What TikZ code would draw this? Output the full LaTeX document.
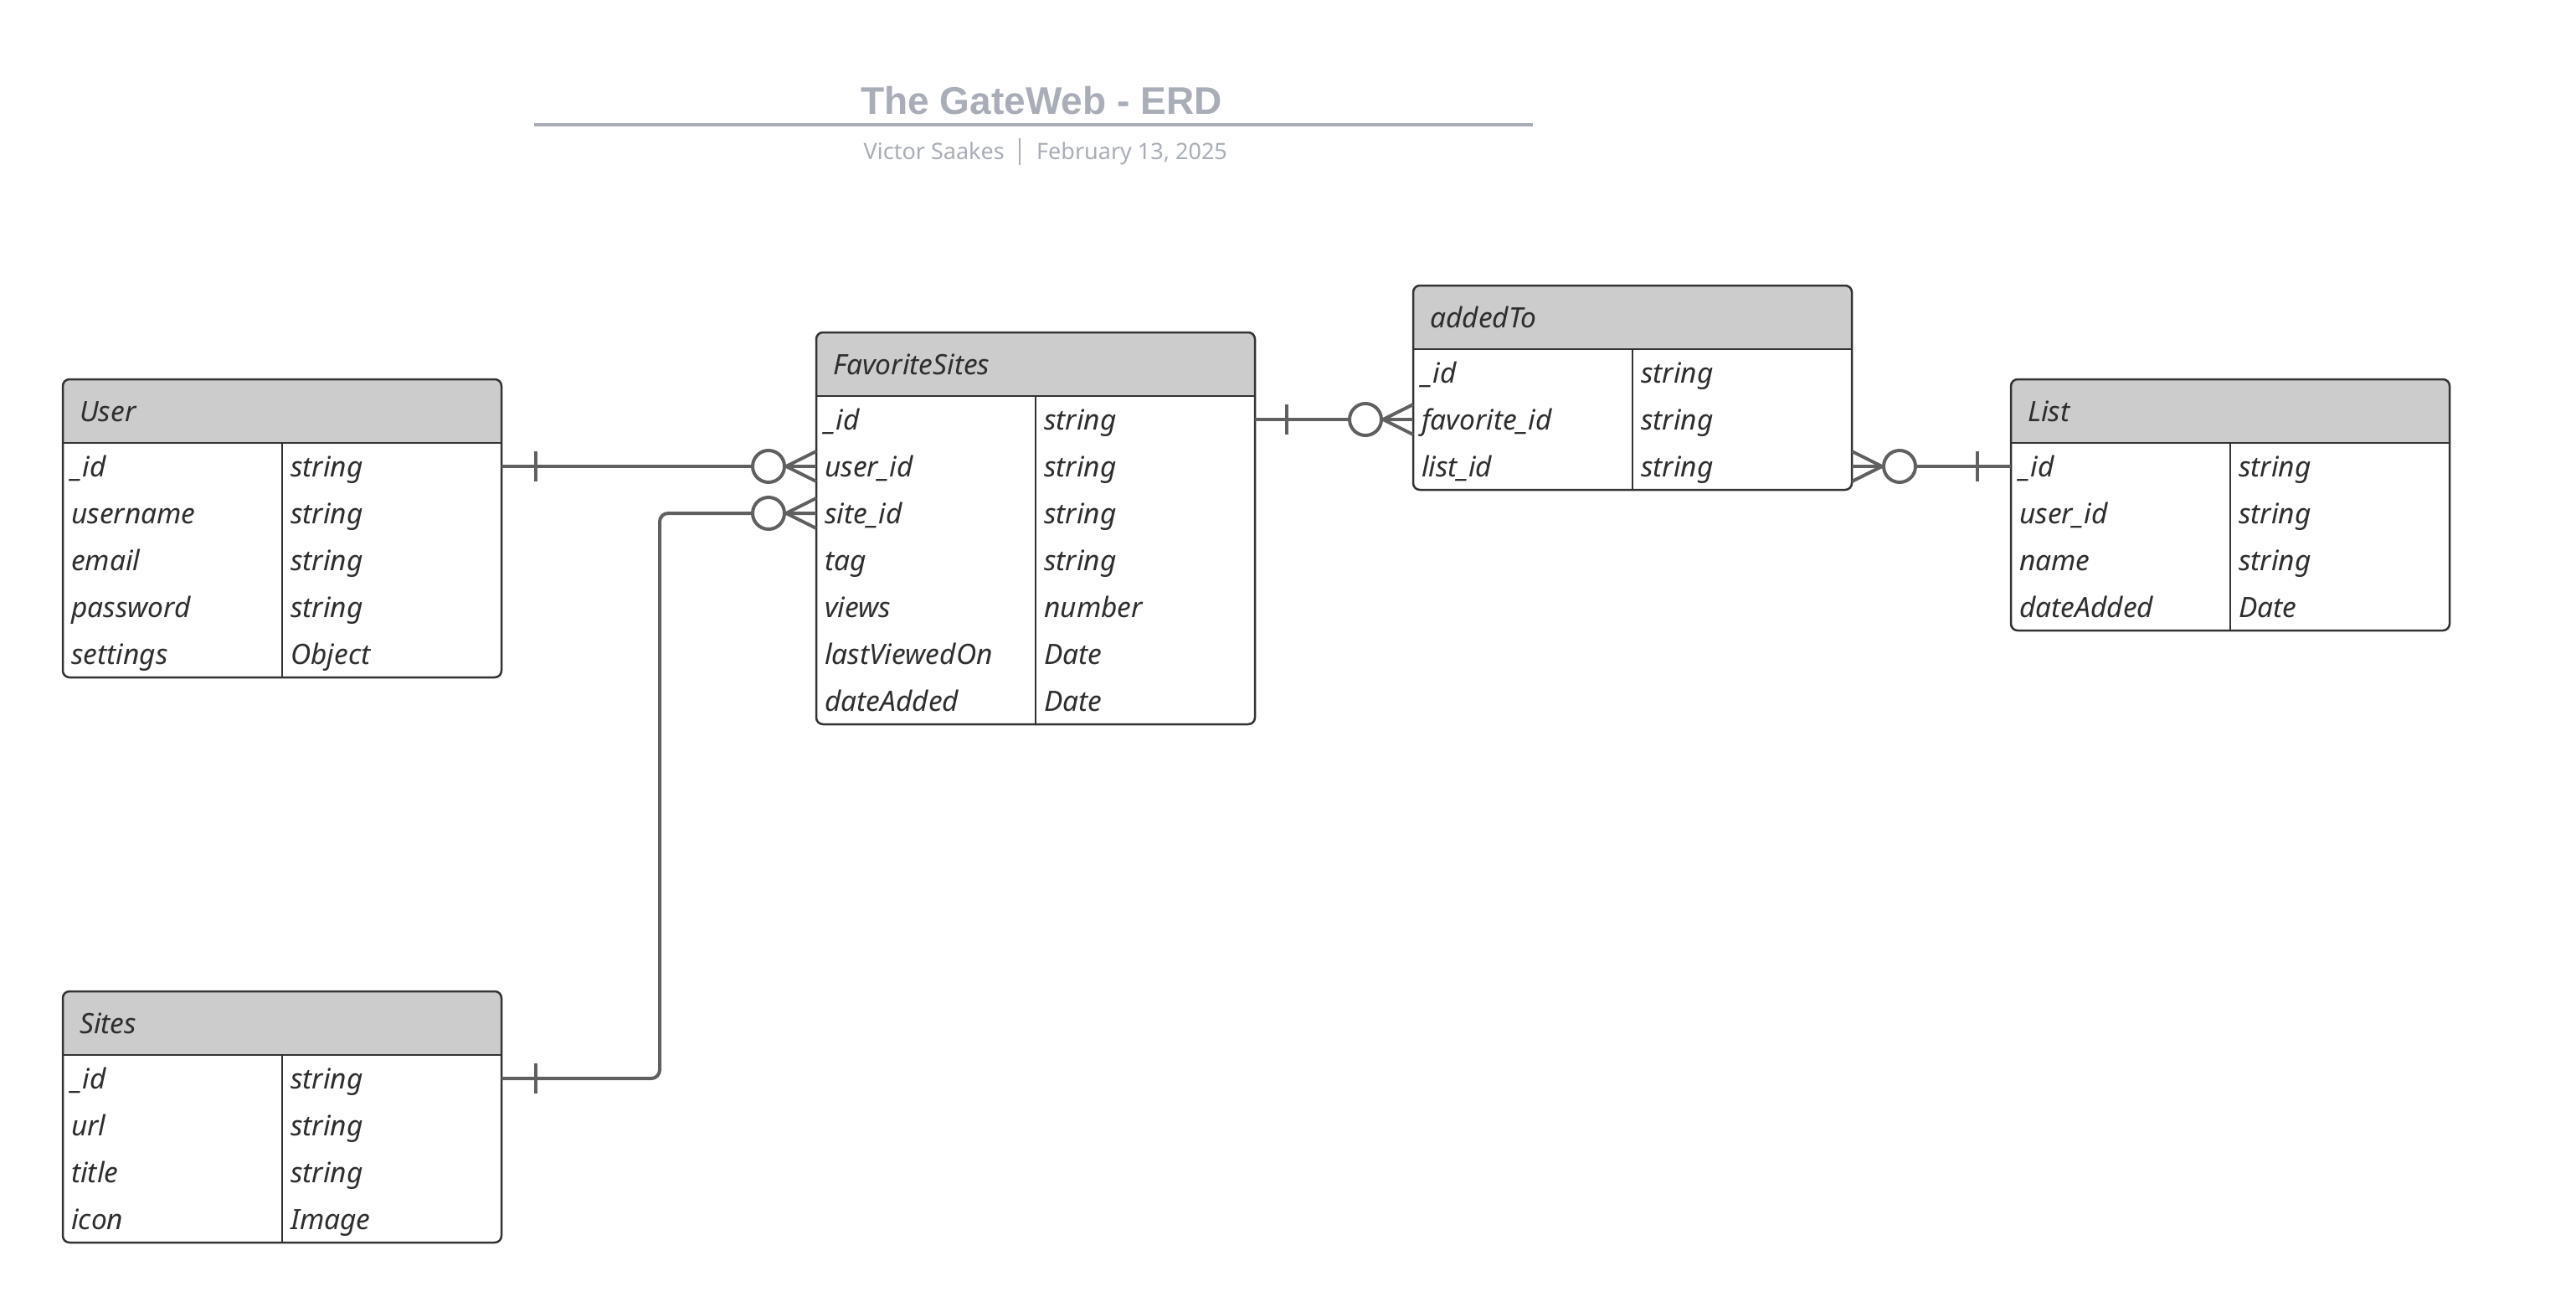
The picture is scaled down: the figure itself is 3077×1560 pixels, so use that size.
\documentclass[tikz,border=0pt]{standalone}
\usepackage{fontspec}
\setmainfont{Noto Sans}
\newfontfamily\titlefont{Liberation Sans Bold}
\usetikzlibrary{calc}
\definecolor{hdr}{HTML}{CCCCCC}
\definecolor{bord}{HTML}{333333}
\definecolor{txt}{HTML}{2E2E2E}
\definecolor{conncol}{HTML}{606060}
\definecolor{ttl}{HTML}{A8ADB7}
\tikzset{
  tbox/.style={draw=bord, line width=2.5pt, rounded corners=8pt, minimum width=524pt, inner sep=0pt, outer sep=0pt, anchor=north west},
  rowcell/.style={minimum width=524pt, minimum height=56pt, inner sep=0pt, outer sep=0pt},
  cell/.style={anchor=west, inner sep=0pt, text=txt, font=\fontsize{33.5}{40}\selectfont\itshape, text height=26pt, text depth=8pt},
  htitle/.style={anchor=west, inner sep=0pt, text=txt, font=\fontsize{33.5}{40}\selectfont\itshape, text height=26pt, text depth=8pt},
  sepline/.style={draw=bord, line width=2.5pt},
  divline/.style={draw=bord, line width=1.5pt},
  conn/.style={draw=conncol, line width=4pt},
  zerocirc/.style={draw=conncol, line width=4pt, fill=white},
}
% #1 name, #2 left x, #3 top y, #4 title, #5 number of rows, #6 rows
\newcommand{\erdtable}[6]{%
  \begin{scope}[shift={(#2,#3)}]
    \begin{scope}
      \clip[rounded corners=8pt] (0,0) rectangle (524,{76+#5*56});
      \fill[white] (0,0) rectangle (524,{76+#5*56});
      \fill[hdr] (0,0) rectangle (524,76);
    \end{scope}
    \node[tbox, minimum height={76pt+#5*56pt}] (#1) at (0,0) {};
    \draw[sepline] (0,76) -- (524,76);
    \draw[divline] (262,76) -- (262,{76+#5*56});
    \node[htitle] (#1-title) at (20,41) {#4};
    \foreach \f/\t [count=\i] in {#6} {
      \node[rowcell] (#1-\i) at (262,{48+56*\i}) {};
      \node[cell] (#1-\i-f) at (10,{51+56*\i}) {\f};
      \node[cell] (#1-\i-t) at (272,{51+56*\i}) {\t};
    }
  \end{scope}
}
\begin{document}
\begin{tikzpicture}[x=1pt,y=-1pt]
\useasboundingbox (0,0) rectangle (3077,1560);
\fill[white] (0,0) rectangle (3077,1560);

% title block
\node[anchor=base, inner sep=0pt, text=ttl, font=\fontsize{46}{52}\selectfont\titlefont] (title) at (1244,136) {The GateWeb - ERD};
\coordinate (ruleL) at (638,149);
\coordinate (ruleR) at (1831,149);
\draw[draw=ttl, line width=4pt] (ruleL) -- (ruleR);
\node[anchor=base east, inner sep=0pt, text=ttl, font=\fontsize{27}{32}\selectfont] (author) at (1200,190) {Victor Saakes};
\node[anchor=base west, inner sep=0pt, text=ttl, font=\fontsize{27}{32}\selectfont] (date) at (1238,190) {February 13, 2025};
\coordinate (sepT) at (1218,165);
\coordinate (sepB) at (1218,197);
\draw[draw=ttl, line width=1.5pt] (sepT) -- (sepB);

% tables
\erdtable{user}{75}{453}{User}{5}{\_id/string, username/string, email/string, password/string, settings/Object}
\erdtable{sites}{75}{1184}{Sites}{4}{\_id/string, url/string, title/string, icon/Image}
\erdtable{fav}{975}{397}{FavoriteSites}{7}{\_id/string, user\_id/string, site\_id/string, tag/string, views/number, lastViewedOn/Date, dateAdded/Date}
\erdtable{added}{1688}{341}{addedTo}{3}{\_id/string, favorite\_id/string, list\_id/string}
\erdtable{list}{2402}{453}{List}{4}{\_id/string, user\_id/string, name/string, dateAdded/Date}

% User -> FavoriteSites
\draw[conn] (user-1.east) -- (fav-2.west);
\draw[conn] ($(user-1.east)+(41,-18)$) -- ++(0,36);
\draw[conn] ($(fav-2.west)+(0,-18)$) -- ++(-36,18) -- ++(36,18);
\draw[zerocirc] ($(fav-2.west)+(-57,0)$) circle[radius=19pt];

% Sites -> FavoriteSites
\draw[conn, rounded corners=10pt] (sites-1.east) -| ($(fav-3.west)+(-187,0)$) -- (fav-3.west);
\draw[conn] ($(sites-1.east)+(41,-18)$) -- ++(0,36);
\draw[conn] ($(fav-3.west)+(0,-18)$) -- ++(-36,18) -- ++(36,18);
\draw[zerocirc] ($(fav-3.west)+(-57,0)$) circle[radius=19pt];

% FavoriteSites -> addedTo
\draw[conn] (fav-1.east) -- (added-2.west);
\draw[conn] ($(fav-1.east)+(38,-18)$) -- ++(0,36);
\draw[conn] ($(added-2.west)+(0,-18)$) -- ++(-36,18) -- ++(36,18);
\draw[zerocirc] ($(added-2.west)+(-57,0)$) circle[radius=19pt];

% addedTo -> List
\draw[conn] (added-3.east) -- (list-1.west);
\draw[conn] ($(list-1.west)+(-40,-18)$) -- ++(0,36);
\draw[conn] ($(added-3.east)+(0,-18)$) -- ++(36,18) -- ++(-36,18);
\draw[zerocirc] ($(added-3.east)+(57,0)$) circle[radius=19pt];
\end{tikzpicture}
\end{document}
